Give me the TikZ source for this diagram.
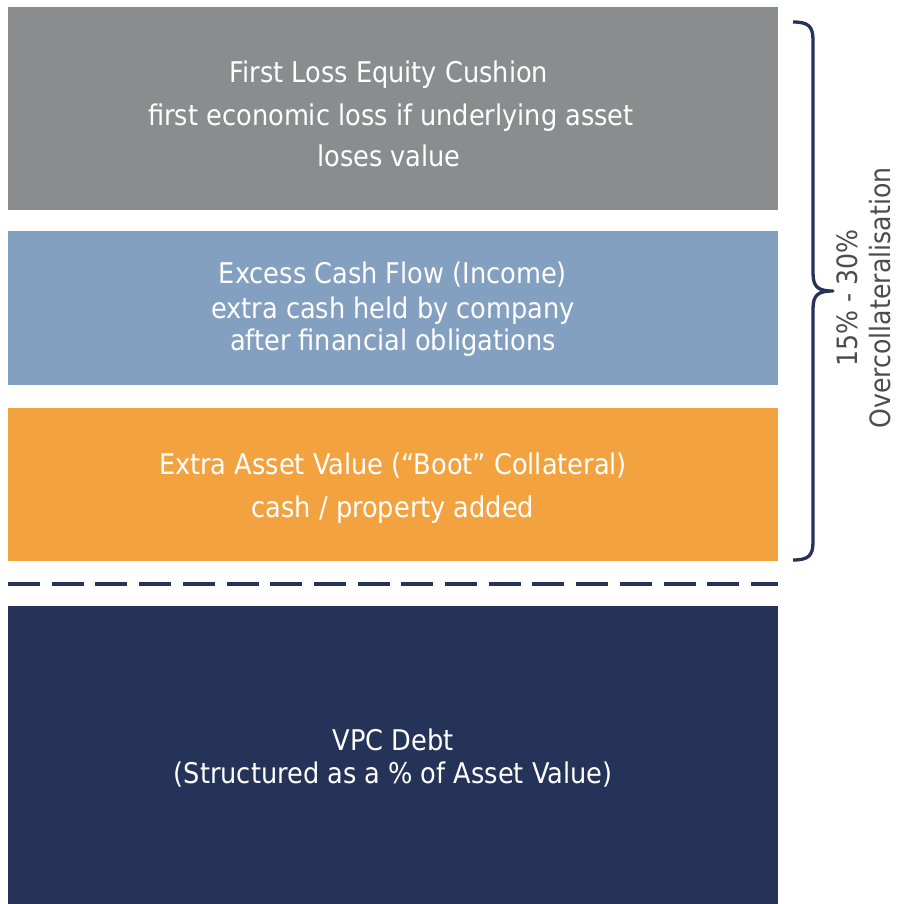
\documentclass[tikz,border=0pt]{standalone}
\usepackage{fontspec}
\setmainfont{DejaVu Sans Condensed}
\definecolor{cgray}{HTML}{8B8C8E}
\definecolor{cblue}{HTML}{84A0C1}
\definecolor{corange}{HTML}{F2A340}
\definecolor{cnavy}{HTML}{253358}
\begin{document}
\begin{tikzpicture}[x=1pt,y=-1pt,
  box/.style={draw=none,inner sep=0pt,minimum width=770pt},
  txt/.style={text=white,font=\fontsize{28.5}{31}\selectfont,anchor=base,inner sep=0pt},
  sidetxt/.style={text=black!70,font=\fontsize{28}{31}\selectfont,anchor=base,inner sep=0pt,rotate=90}]
\useasboundingbox (0,0) rectangle (896,904);
% boxes
\node[box,fill=cgray,minimum height=203pt] (bgray) at (393,108.5) {};
\node[box,fill=cblue,minimum height=154pt] (bblue) at (393,308) {};
\node[box,fill=corange,minimum height=153pt] (borange) at (393,484.5) {};
\node[box,fill=cnavy,minimum height=298pt] (bnavy) at (393,755) {};
% texts
\node[txt] (g1) at (389,83) {First Loss Equity Cushion};
\node[txt] (g2) at (391,126) {first economic loss if underlying asset};
\node[txt] (g3) at (389,167) {loses value};
\node[txt] (b1) at (393,283) {Excess Cash Flow (Income)};
\node[txt] (b2) at (393,318) {extra cash held by company};
\node[txt] (b3) at (393,350) {after financial obligations};
\node[txt] (o1) at (393,474) {Extra Asset Value (“Boot” Collateral)};
\node[txt] (o2) at (393,517) {cash / property added};
\node[txt] (n1) at (393,750) {VPC Debt};
\node[txt] (n2) at (393,783) {(Structured as a \% of Asset Value)};
% dashed separator
\coordinate (dl) at (8,584);
\coordinate (dr) at (778,584);
\draw[cnavy,line width=4pt,dash pattern=on 32pt off 11.7pt] (dl) -- (dr);
% brace
\draw[cnavy,line width=3.3pt,line join=round]
  (793,22) .. controls (808,22) and (813,26) .. (813,40) -- (813,273)
  .. controls (813,287) and (818,291) .. (833,291)
  .. controls (818,291) and (813,295) .. (813,309) -- (813,542)
  .. controls (813,556) and (808,560) .. (793,560);
\node[sidetxt] (s1) at (857,298) {15\% - 30\%};
\node[sidetxt] (s2) at (890,298) {Overcollateralisation};
\end{tikzpicture}
\end{document}
